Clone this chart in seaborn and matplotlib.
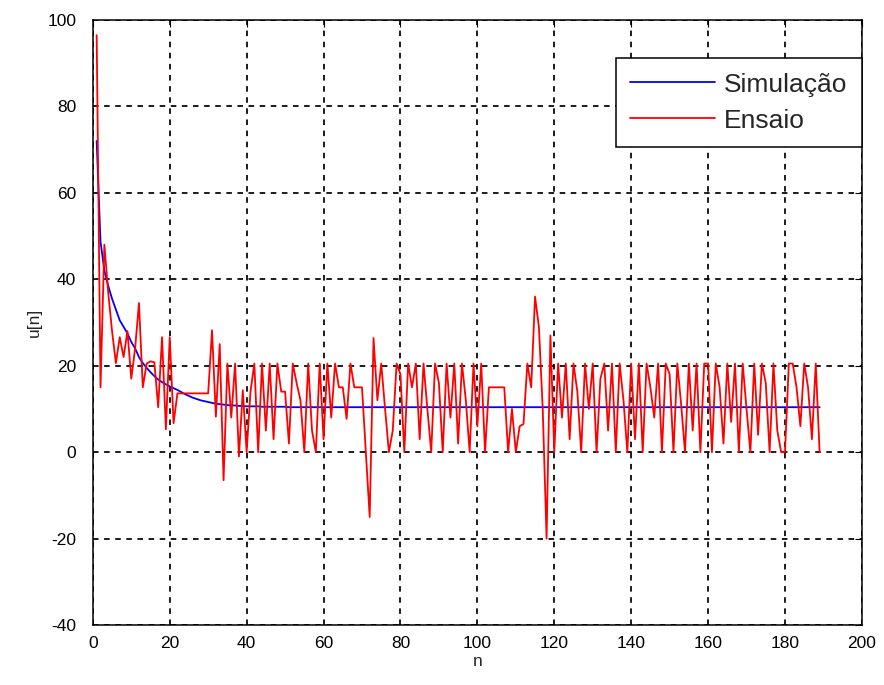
import numpy as np
import pandas as pd
import matplotlib
matplotlib.use("Agg")
import matplotlib.pyplot as plt
import seaborn as sns

# Simulated control signal u[n]
simulacao = [
    72.0, 48.7, 42.0, 38.5, 35.5, 33.0, 30.5, 29.0, 27.5, 25.5,
    24.0, 22.0, 20.6, 19.5, 18.5, 17.6, 16.8, 16.2, 15.7, 15.2,
    14.8, 14.4, 13.9, 13.4, 13.0, 12.6, 12.3, 12.0, 11.8, 11.6,
    11.4, 11.2, 11.1, 11.0, 10.9, 10.8, 10.8, 10.7, 10.7, 10.6,
    10.6, 10.6, 10.6, 10.5, 10.5, 10.5, 10.5, 10.5, 10.5, 10.5,
    10.4, 10.4, 10.4, 10.4, 10.4, 10.4, 10.4, 10.4, 10.4, 10.4,
    10.4, 10.4, 10.4, 10.4, 10.4, 10.4, 10.4, 10.4, 10.4, 10.4,
    10.4, 10.4, 10.4, 10.4, 10.4, 10.4, 10.4, 10.4, 10.4, 10.4,
    10.4, 10.4, 10.4, 10.4, 10.4, 10.4, 10.4, 10.4, 10.4, 10.4,
    10.4, 10.4, 10.4, 10.4, 10.4, 10.4, 10.4, 10.4, 10.4, 10.4,
    10.4, 10.4, 10.4, 10.4, 10.4, 10.4, 10.4, 10.4, 10.4, 10.4,
    10.4, 10.4, 10.4, 10.4, 10.4, 10.4, 10.4, 10.4, 10.4, 10.4,
    10.4, 10.4, 10.4, 10.4, 10.4, 10.4, 10.4, 10.4, 10.4, 10.4,
    10.4, 10.4, 10.4, 10.4, 10.4, 10.4, 10.4, 10.4, 10.4, 10.4,
    10.4, 10.4, 10.4, 10.4, 10.4, 10.4, 10.4, 10.4, 10.4, 10.4,
    10.4, 10.4, 10.4, 10.4, 10.4, 10.4, 10.4, 10.4, 10.4, 10.4,
    10.4, 10.4, 10.4, 10.4, 10.4, 10.4, 10.4, 10.4, 10.4, 10.4,
    10.4, 10.4, 10.4, 10.4, 10.4, 10.4, 10.4, 10.4, 10.4, 10.4,
    10.4, 10.4, 10.4, 10.4, 10.4, 10.4, 10.4, 10.4, 10.4,
]

# Measured control signal u[n] from the test run
ensaio = [
    96.5, 15.0, 48.0, 37.0, 28.0, 20.6, 26.6, 22.0, 28.0, 17.0,
    24.0, 34.5, 15.0, 20.5, 21.0, 20.8, 10.4, 26.6, 5.3, 26.6,
    6.7, 13.6, 13.6, 13.6, 13.6, 13.6, 13.6, 13.6, 13.6, 13.6,
    28.2, 8.2, 25.0, -6.5, 20.5, 8.0, 20.5, -1.0, 14.3, 0.0,
    14.0, 20.5, 0.0, 20.5, 5.0, 20.5, 3.0, 20.5, 14.0, 14.0,
    2.0, 20.5, 16.0, 12.0, 0.0, 20.5, 5.0, 0.0, 20.5, 3.0,
    20.5, 8.0, 20.5, 15.0, 15.0, 7.7, 20.5, 15.0, 15.0, 15.0,
    0.0, -15.0, 26.4, 12.0, 20.5, 10.0, 0.0, 5.0, 20.5, 18.0,
    0.0, 20.5, 15.0, 20.5, 3.0, 20.5, 10.0, 0.0, 20.5, 16.0,
    0.0, 20.5, 8.0, 20.5, 2.0, 20.5, 12.0, 0.0, 20.5, 6.0,
    20.5, 0.0, 15.0, 15.0, 15.0, 15.0, 15.0, 0.0, 10.0, 0.0,
    6.0, 6.5, 20.5, 15.0, 36.0, 29.0, 10.0, -20.0, 27.0, 0.0,
    20.5, 8.0, 20.5, 3.0, 20.5, 14.0, 0.0, 20.5, 10.0, 20.5,
    0.0, 17.0, 20.5, 5.0, 20.5, 0.0, 20.5, 12.0, 0.0, 20.5,
    3.0, 20.5, 0.0, 20.5, 15.0, 8.0, 20.5, 0.0, 20.5, 18.0,
    0.0, 20.5, 11.0, 0.0, 20.5, 5.0, 20.5, 0.0, 20.5, 20.5,
    0.0, 20.5, 15.0, 2.0, 20.5, 7.0, 20.5, 0.0, 20.5, 10.0,
    0.0, 20.5, 4.0, 20.5, 16.0, 0.0, 20.5, 5.0, 0.0, 0.0,
    20.5, 20.5, 15.0, 6.0, 20.5, 15.0, 3.0, 20.5, 0.0,
]

n = np.arange(1, len(ensaio) + 1)
df = pd.DataFrame({"n": n, "Simulação": simulacao, "Ensaio": ensaio})

x_ticks = list(range(0, 201, 20))
y_ticks = list(range(-40, 101, 20))

sns.set_style("white")
plt.rcParams["font.family"] = ["Liberation Sans", "DejaVu Sans"]
plt.rcParams["axes.unicode_minus"] = False

fig = plt.figure(figsize=(8.84, 6.85), dpi=100)
ax = fig.add_axes([0.105, 0.0876, 0.870, 0.8832])

sns.lineplot(data=df, x="n", y="Simulação", ax=ax, color="blue",
             linewidth=1.3, estimator=None, label="Simulação")
sns.lineplot(data=df, x="n", y="Ensaio", ax=ax, color="red",
             linewidth=1.3, estimator=None, label="Ensaio")

ax.set_xlim(0, 200)
ax.set_ylim(-40, 100)
ax.set_xticks(x_ticks)
ax.set_yticks(y_ticks)
ax.set_xlabel("n", fontsize=12.5, labelpad=2)
ax.set_ylabel("u[n]", fontsize=12.5, labelpad=4)
ax.tick_params(direction="in", length=5, width=0.8, top=True, right=True,
               labelsize=12.5, colors="black")
ax.tick_params(axis="x", pad=8)
ax.tick_params(axis="y", pad=12)
ax.grid(True, color="black", linestyle=(0, (3.2, 3.2)), linewidth=1.25)
ax.set_axisbelow(True)
for s in ax.spines.values():
    s.set_color("black")
    s.set_linewidth(1.1)

leg = ax.legend(loc="upper right", bbox_to_anchor=(1.0, 0.937),
                borderaxespad=0, fontsize=19, handlelength=3.2,
                fancybox=False, framealpha=1, edgecolor="black",
                borderpad=0.55, labelspacing=0.45, handletextpad=0.35)
leg.get_frame().set_linewidth(1.1)

fig.savefig("out.png", dpi=100, facecolor="white")
